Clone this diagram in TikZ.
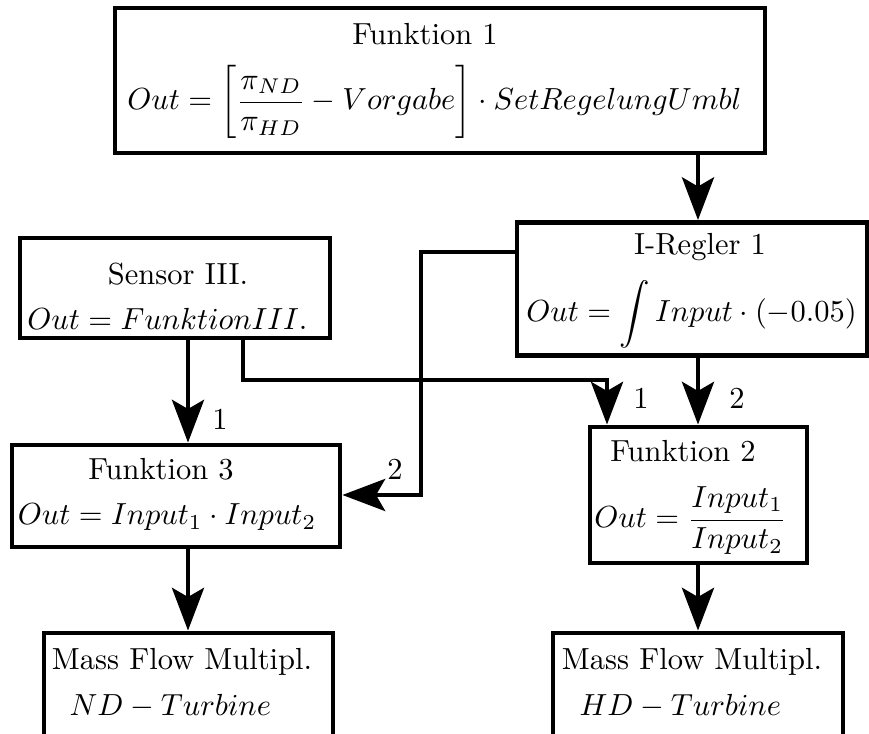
\documentclass[tikz,border=0pt]{standalone}
\usetikzlibrary{arrows.meta}
\begin{document}
\begin{tikzpicture}[x=0.32787pt,y=-0.32787pt,
  box/.style={draw, line width=1.6pt, rectangle, inner sep=0pt},
  sz/.style 2 args={minimum width=#1*0.32787pt, minimum height=#2*0.32787pt},
  txt/.style={inner sep=0pt, anchor=base},
  txtw/.style={inner sep=0pt, anchor=base west},
  conn/.style={line width=1.45pt, -{Stealth[length=14pt,width=10.5pt,inset=3pt]}},
  lbl/.style={inner sep=0pt, anchor=base}]
\useasboundingbox (0,0) rectangle (869,734);
\clip (0,0) rectangle (869,734);

% blocks
\node[box, sz={650}{145}] (f1)   at (440,80.5) {};
\node[box, sz={350}{133}] (ireg) at (692,289) {};
\node[box, sz={310}{100}] (sens) at (175,288) {};
\node[box, sz={328}{102}] (f3)   at (176,496) {};
\node[box, sz={217}{136}] (f2)   at (698.5,495) {};
\node[box, sz={289}{140}] (ml)   at (188.5,703) {};
\node[box, sz={290}{140}] (mr)   at (698,703) {};

% block texts
\node[txt] (f1a) at (425,45) {Funktion 1};
\node[txt] (f1b) at (434.5,110) {$\displaystyle Out=\left[\frac{\pi_{ND}}{\pi_{HD}}-Vorgabe\right]\cdot SetRegelungUmbl$};
\node[txt] (ira) at (700,255) {I-Regler 1};
\node[txt] (irb) at (691.5,322) {$\displaystyle Out=\int Input\cdot(-0.05)$};
\node[txt] (sa) at (178,285) {Sensor III.};
\node[txt] (sb) at (167.5,330) {$Out=FunktionIII.$};
\node[txt] (f3a) at (161,480) {Funktion 3};
\node[txt] (f3b) at (167,525) {$Out=Input_1\cdot Input_2$};
\node[txt] (f2a) at (683,462) {Funktion 2};
\node[txt] (f2b) at (690.5,528) {$\displaystyle Out=\frac{Input_1}{Input_2}$};
\node[txt] (mla) at (182,670) {Mass Flow Multipl.};
\node[txtw] (mlb) at (69,716) {$ND-Turbine$};
\node[txt] (mra) at (692,670) {Mass Flow Multipl.};
\node[txtw] (mrb) at (579,716) {$HD-Turbine$};

% routing points
\coordinate (b1) at (188,0);
\coordinate (b2) at (243,0);
\coordinate (b3) at (607,380);
\coordinate (b4) at (421,252);
\coordinate (b5) at (421,495);
\coordinate (b6) at (188,0);
\coordinate (b7) at (698,0);

% connectors
\draw[conn] (f1.south -| b7) -- (ireg.north -| b7);
\draw[conn] (ireg.south -| b7) -- (f2.north -| b7);
\draw[conn] (sens.south -| b1) -- (f3.north -| b1);
\draw[conn] (sens.south -| b2) |- (b3) -- (f2.north -| b3);
\draw[conn] (ireg.west |- b4) -- (b4) -- (b5) -- (f3.east |- b5);
\draw[conn] (f3.south -| b6) -- (ml.north -| b6);
\draw[conn] (f2.south -| b7) -- (mr.north -| b7);

% input numbers
\node[lbl] (l1) at (220,430) {1};
\node[lbl] (l2) at (641,409) {1};
\node[lbl] (l3) at (737,409) {2};
\node[lbl] (l4) at (395,480) {2};
\end{tikzpicture}
\end{document}
